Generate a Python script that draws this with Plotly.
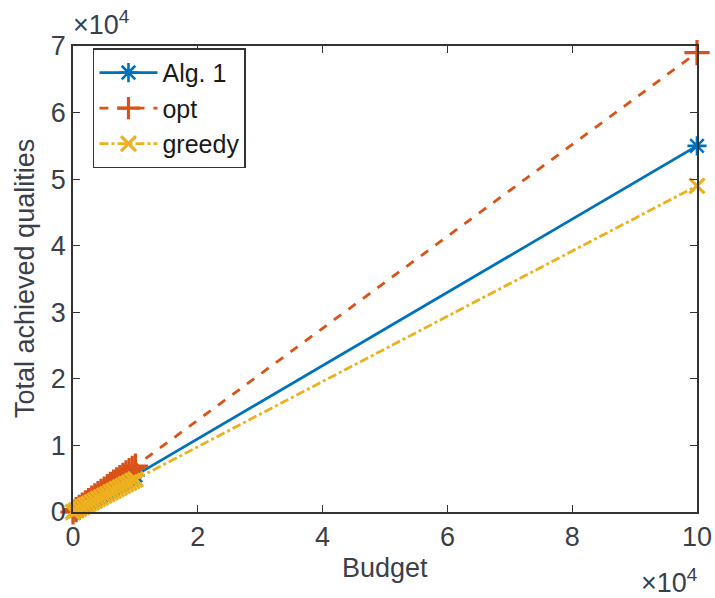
import plotly.graph_objects as go

budget = [0, 500, 1000, 1500, 2000, 2500, 3000, 3500, 4000, 4500, 5000,
          5500, 6000, 6500, 7000, 7500, 8000, 8500, 9000, 9500, 10000, 100000]
alg1 = [0, 280, 560, 830, 1100, 1380, 1650, 1930, 2200, 2480, 2750,
        3030, 3300, 3580, 3850, 4130, 4400, 4680, 4950, 5230, 5500, 55000]
opt = [0, 350, 700, 1040, 1380, 1730, 2070, 2420, 2760, 3110, 3450,
       3800, 4140, 4490, 4830, 5180, 5520, 5870, 6210, 6560, 6900, 69000]
greedy = [0, 250, 490, 740, 980, 1230, 1470, 1720, 1960, 2210, 2450,
          2700, 2940, 3190, 3430, 3680, 3920, 4170, 4410, 4660, 4900, 49000]

x_ticks = [0, 20000, 40000, 60000, 80000, 100000]
x_tick_text = ["0", "2", "4", "6", "8", "10"]
y_ticks = [0, 10000, 20000, 30000, 40000, 50000, 60000, 70000]
y_tick_text = ["0", "1", "2", "3", "4", "5", "6", "7"]

font = "Liberation Sans, Arial, sans-serif"
txt = "#3a3f4a"
fs = 27

fig = go.Figure()
fig.add_trace(go.Scatter(x=budget, y=alg1, name="Alg. 1", mode="lines+markers",
                         line=dict(color="#0072BD", width=2.8),
                         marker=dict(symbol="asterisk-open", size=16,
                                     line=dict(color="#0072BD", width=2.6)),
                         cliponaxis=False))
fig.add_trace(go.Scatter(x=budget, y=opt, name="opt", mode="lines+markers",
                         line=dict(color="#D95319", width=2.8, dash="dash"),
                         marker=dict(symbol="cross-thin-open", size=18,
                                     line=dict(color="#D95319", width=3.2)),
                         cliponaxis=False))
fig.add_trace(go.Scatter(x=budget, y=greedy, name="greedy", mode="lines+markers",
                         line=dict(color="#EDB120", width=2.8, dash="dashdot"),
                         marker=dict(symbol="x-thin-open", size=15,
                                     line=dict(color="#EDB120", width=3.2)),
                         cliponaxis=False))

axis_common = dict(showline=True, linecolor="#333333", linewidth=1.5, mirror="ticks",
                   ticks="inside", ticklen=7, tickcolor="#333333", tickwidth=1.3,
                   showgrid=False, zeroline=False, automargin=False,
                   tickfont=dict(family=font, size=fs, color=txt))

fig.update_layout(
    width=715, height=598,
    margin=dict(l=73, r=18, t=46, b=86),
    plot_bgcolor="white", paper_bgcolor="white",
    font=dict(family=font, color=txt),
    xaxis=dict(range=[0, 100000], tickvals=x_ticks, ticktext=x_tick_text, **axis_common),
    yaxis=dict(range=[0, 70000], tickvals=y_ticks, ticktext=y_tick_text, **axis_common),
    legend=dict(x=0.032, y=0.995, xanchor="left", yanchor="top",
                bgcolor="white", bordercolor="#333333", borderwidth=1.5,
                font=dict(family=font, size=25, color="#1a1a1a"),
                itemwidth=58, tracegroupgap=0),
    showlegend=True,
)

# axis titles
fig.add_annotation(xref="paper", yref="paper", x=0.5, y=0.0, xanchor="center", yanchor="middle",
                   text="Budget", showarrow=False, yshift=-56,
                   font=dict(family=font, size=fs, color=txt))
fig.add_annotation(xref="paper", yref="paper", x=0.0, y=0.5, xanchor="center", yanchor="middle",
                   text="Total achieved qualities", showarrow=False, textangle=-90, xshift=-48,
                   font=dict(family=font, size=fs, color=txt))
# exponent labels
fig.add_annotation(xref="paper", yref="paper", x=0.0, y=1.0, xanchor="left", yanchor="bottom",
                   text="×10<sup>4</sup>", showarrow=False, yshift=4, xshift=-2,
                   font=dict(family=font, size=fs, color=txt))
fig.add_annotation(xref="paper", yref="paper", x=1.0, y=0.0, xanchor="right", yanchor="top",
                   text="×10<sup>4</sup>", showarrow=False, yshift=-50, xshift=2,
                   font=dict(family=font, size=fs, color=txt))

fig.write_html("out.html")
